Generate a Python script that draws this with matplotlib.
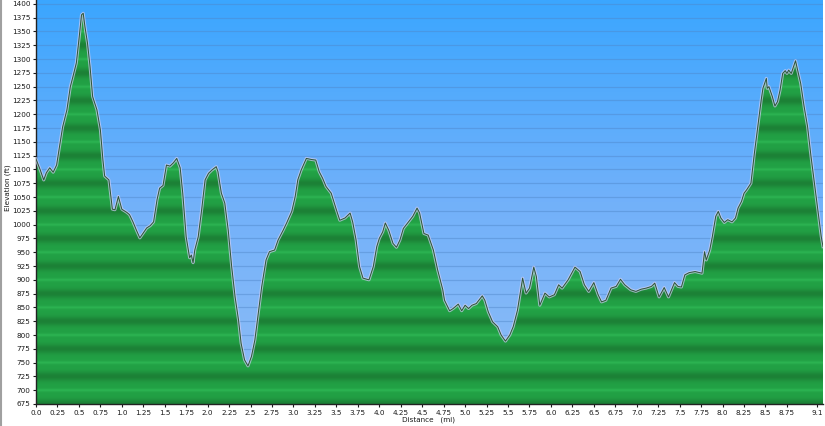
import matplotlib
matplotlib.use("Agg")
import matplotlib.pyplot as plt
import numpy as np
from matplotlib.colors import LinearSegmentedColormap
from matplotlib.lines import Line2D

# distance (mi) and elevation (ft)
dist = [0.00, 0.05, 0.09, 0.12, 0.16, 0.20, 0.24, 0.28, 0.31, 0.36, 0.40, 0.43, 0.47, 0.50,
        0.53, 0.55, 0.57, 0.60, 0.63, 0.66, 0.71, 0.75, 0.78, 0.80, 0.85, 0.89, 0.92, 0.96,
        1.00, 1.06, 1.09, 1.13, 1.17, 1.21, 1.29, 1.33, 1.37, 1.41, 1.44, 1.48, 1.52, 1.56,
        1.60, 1.64, 1.68, 1.71, 1.75, 1.79, 1.81, 1.83, 1.85, 1.89, 1.93, 1.97, 2.01, 2.05,
        2.10, 2.12, 2.16, 2.20, 2.24, 2.28, 2.32, 2.36, 2.39, 2.43, 2.47, 2.51, 2.55, 2.59,
        2.63, 2.68, 2.72, 2.78, 2.82, 2.88, 2.92, 2.98, 3.02, 3.05, 3.09, 3.15, 3.21, 3.26,
        3.30, 3.34, 3.38, 3.44, 3.50, 3.54, 3.60, 3.66, 3.69, 3.73, 3.77, 3.81, 3.88, 3.93,
        3.97, 4.00, 4.04, 4.07, 4.11, 4.16, 4.20, 4.24, 4.28, 4.33, 4.39, 4.44, 4.47, 4.52,
        4.57, 4.63, 4.68, 4.74, 4.76, 4.82, 4.86, 4.92, 4.96, 5.00, 5.04, 5.08, 5.13, 5.20,
        5.23, 5.27, 5.32, 5.38, 5.42, 5.47, 5.52, 5.56, 5.61, 5.67, 5.71, 5.75, 5.80, 5.83,
        5.87, 5.93, 5.98, 6.04, 6.09, 6.13, 6.20, 6.28, 6.34, 6.39, 6.44, 6.50, 6.55, 6.59,
        6.64, 6.70, 6.76, 6.81, 6.86, 6.93, 6.99, 7.05, 7.11, 7.17, 7.21, 7.26, 7.32, 7.37,
        7.44, 7.48, 7.52, 7.56, 7.61, 7.68, 7.76, 7.79, 7.81, 7.85, 7.88, 7.92, 7.95, 7.98,
        8.02, 8.06, 8.11, 8.15, 8.18, 8.22, 8.25, 8.28, 8.33, 8.37, 8.41, 8.45, 8.47, 8.51,
        8.52, 8.54, 8.58, 8.61, 8.64, 8.67, 8.70, 8.73, 8.75, 8.77, 8.80, 8.85, 8.87, 8.91,
        8.95, 8.99, 9.03, 9.07, 9.11, 9.15, 9.17]
elev = [1119, 1099, 1081, 1094, 1103, 1095, 1108, 1148, 1177, 1208, 1250, 1268, 1293, 1335,
        1380, 1383, 1359, 1329, 1286, 1232, 1208, 1172, 1117, 1088, 1081, 1028, 1027, 1051,
        1028, 1022, 1018, 1005, 990, 976, 994, 998, 1005, 1045, 1066, 1071, 1108, 1106,
        1112, 1120, 1103, 1057, 978, 940, 945, 931, 954, 978, 1027, 1081, 1093, 1099,
        1105, 1096, 1057, 1039, 990, 924, 869, 827, 785, 755, 744, 761, 791, 839,
        888, 936, 951, 954, 972, 990, 1003, 1024, 1051, 1081, 1099, 1120, 1118, 1117,
        1096, 1084, 1069, 1057, 1027, 1008, 1012, 1021, 1005, 972, 924, 903, 900, 924,
        960, 975, 987, 1003, 990, 966, 959, 972, 993, 1003, 1015, 1030, 1021, 984,
        981, 954, 918, 882, 863, 844, 848, 856, 844, 854, 848, 854, 857, 871,
        863, 842, 824, 815, 800, 789, 800, 815, 845, 903, 876, 885, 923, 906,
        854, 876, 869, 873, 891, 885, 900, 923, 915, 891, 879, 895, 873, 860,
        863, 885, 888, 901, 891, 882, 879, 883, 885, 888, 894, 869, 886, 869,
        895, 888, 887, 909, 913, 915, 912, 951, 936, 954, 978, 1015, 1024, 1012,
        1004, 1009, 1005, 1012, 1030, 1042, 1057, 1063, 1075, 1129, 1178, 1226, 1247, 1265,
        1247, 1250, 1232, 1215, 1223, 1244, 1274, 1279, 1274, 1280, 1274, 1297, 1283, 1256,
        1214, 1178, 1124, 1075, 1027, 978, 960]

xticks = [0.0, 0.25, 0.5, 0.75, 1.0, 1.25, 1.5, 1.75, 2.0, 2.25, 2.5, 2.75, 3.0, 3.25, 3.5,
          3.75, 4.0, 4.25, 4.5, 4.75, 5.0, 5.25, 5.5, 5.75, 6.0, 6.25, 6.5, 6.75, 7.0, 7.25,
          7.5, 7.75, 8.0, 8.25, 8.5, 8.75, 9.1]
xlabels = ["0.0", "0.25", "0.5", "0.75", "1.0", "1.25", "1.5", "1.75", "2.0", "2.25", "2.5",
           "2.75", "3.0", "3.25", "3.5", "3.75", "4.0", "4.25", "4.5", "4.75", "5.0", "5.25",
           "5.5", "5.75", "6.0", "6.25", "6.5", "6.75", "7.0", "7.25", "7.5", "7.75", "8.0",
           "8.25", "8.5", "8.75", "9.1"]
yticks = list(range(675, 1401, 25))

W, H = 825, 426
fs = 5.2
fig = plt.figure(figsize=(W / 100, H / 100), dpi=100)
ax = fig.add_axes([36 / W, 1 - 404 / H, (823 - 36) / W, 404 / H])
xmin, xmax = 0, 9.17
ymin, ymax = 675, 1407
ax.set_xlim(xmin, xmax)
ax.set_ylim(ymin, ymax)

# sky gradient
sky = LinearSegmentedColormap.from_list("sky", ["#8fbdf6", "#72b1fa", "#3ba6ff"])
grad = np.linspace(0, 1, 256).reshape(-1, 1)
ax.imshow(grad, aspect="auto", cmap=sky, origin="lower",
          extent=[xmin, xmax, ymin, ymax], zorder=0)

for yv in yticks:
    ax.axhline(yv, color="#4f86c8", lw=0.9, alpha=0.45, zorder=1)

# green striped fill: dark band at odd 25s, thin light line at 50s
poly = ax.fill_between(dist, elev, ymin, color="none", lw=0, zorder=2)
yy = np.linspace(ymin, ymax, 3000)
d_dark = (yy - 875 + 25) % 50 - 25
d_light = (yy - 850 + 25) % 50 - 25
t = -np.exp(-d_dark**2 / (2 * 6.0**2)) + 0.7 * np.exp(-d_light**2 / (2 * 1.8**2))
green = LinearSegmentedColormap.from_list("gr", ["#1c8136", "#22a145", "#30bb57"])
img = ax.imshow(t.reshape(-1, 1), aspect="auto", cmap=green, origin="lower",
                extent=[xmin, xmax, ymin, ymax], zorder=2, vmin=-1, vmax=1)
path = poly.get_paths()[0]
img.set_clip_path(path, transform=ax.transData)
ax.plot(dist, elev, color="#cfcdf5", lw=2.2, alpha=0.7, zorder=3)
ax.plot(dist, elev, color="#2d5536", lw=0.7, zorder=4)

ax.set_xticks(xticks)
ax.set_xticklabels(xlabels)
ax.set_yticks(yticks)
ax.tick_params(axis="both", labelsize=fs, colors="#1a1a1a", length=2.5, width=0.8,
               direction="out", pad=1.5)
for s in ["top", "right"]:
    ax.spines[s].set_visible(False)
for s in ["left", "bottom"]:
    ax.spines[s].set_color("#222222")
    ax.spines[s].set_linewidth(1.0)

fig.text(8 / W, 1 - 188 / H, "Elevation (ft)", rotation=90, ha="center", va="center",
         fontsize=fs, color="#1a1a1a")
fig.text(428 / W, 1 - 420 / H, "Distance   (mi)", ha="center", va="center",
         fontsize=fs, color="#1a1a1a")
fig.add_artist(Line2D([1 / W, 1 / W], [0, 1], color="#a0a0a0", lw=1.5,
                      transform=fig.transFigure))

fig.savefig("out.png", dpi=100)
